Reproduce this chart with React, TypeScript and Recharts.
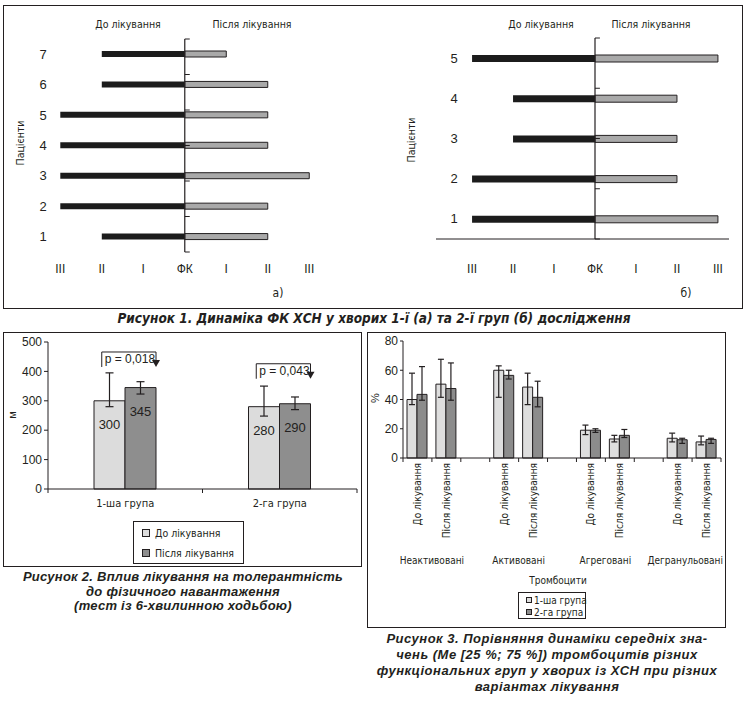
import { BarChart, Bar, XAxis, YAxis, ReferenceLine, ErrorBar, LabelList, Legend } from 'recharts';

const INK = '#231f20';
const NARROW = '"Liberation Sans Narrow", "DejaVu Sans Condensed", "Arial Narrow", sans-serif';
const SANS = '"Liberation Sans", Arial, sans-serif';

// Рисунок 1 (а): ФК ХСН у пацієнтів 1-ї групи
const patientsA = ['1', '2', '3', '4', '5', '6', '7'];
const fcBeforeA = [2, 3, 3, 3, 3, 2, 2];
const fcAfterA = [2, 2, 3, 2, 2, 2, 1];

// Рисунок 1 (б): ФК ХСН у пацієнтів 2-ї групи
const patientsB = ['1', '2', '3', '4', '5'];
const fcBeforeB = [3, 3, 2, 2, 3];
const fcAfterB = [3, 2, 2, 2, 3];

const fcTicks = [-3, -2, -1, 0, 1, 2, 3];
const fcTickLabels = ['III', 'II', 'I', 'ФК', 'I', 'II', 'III'];

// Рисунок 2: тест із 6-хвилинною ходьбою, м
const walkGroups = ['1-ша група', '2-га група'];
const walkBefore = [300, 280];
const walkBeforeLow = [280, 248];
const walkBeforeHigh = [395, 350];
const walkAfter = [345, 290];
const walkAfterLow = [323, 270];
const walkAfterHigh = [365, 313];
const pValues = ['0,018', '0,043'];
const pLevels = [466, 426];
const walkTicks = [0, 100, 200, 300, 400, 500];

// Рисунок 3: тромбоцити, Me [25 %; 75 %]
const plateletGroups = ['Неактивовані', 'Активовані', 'Агреговані', 'Дегранульовані'];
const phases = ['До лікування', 'Після лікування'];
const grp1Me = [40, 50.5, 60, 48.5, 19, 13, 13.5, 11];
const grp1Q25 = [36.5, 41.5, 41.5, 36.5, 16, 11, 11, 9];
const grp1Q75 = [58, 67.5, 63, 58, 22.5, 15.5, 17, 15];
const grp2Me = [43.5, 47.5, 56.5, 41.5, 19, 15.5, 12.5, 12.7];
const grp2Q25 = [39.5, 39.5, 54, 35, 17.5, 14, 10, 10];
const grp2Q75 = [62.5, 65, 60, 52.5, 20, 19.5, 13.5, 13.5];
const plateletTicks = [0, 10, 20, 30, 40, 50, 60, 70, 80];

const rowsA = patientsA.map((p, i) => ({ patient: p, before: -fcBeforeA[i], after: fcAfterA[i] }));
const rowsB = patientsB.map((p, i) => ({ patient: p, before: -fcBeforeB[i], after: fcAfterB[i] }));

const walkRows = walkGroups.map((g, i) => ({
  group: g,
  before: walkBefore[i],
  beforeErr: [walkBefore[i] - walkBeforeLow[i], walkBeforeHigh[i] - walkBefore[i]],
  after: walkAfter[i],
  afterErr: [walkAfter[i] - walkAfterLow[i], walkAfterHigh[i] - walkAfter[i]],
  p: pValues[i],
}));

const plateletRows: any[] = [];
plateletGroups.forEach((g, gi) => {
  if (gi > 0) plateletRows.push({ id: `gap-${gi}`, phase: '', group: '' });
  phases.forEach((ph, pi) => {
    const i = gi * 2 + pi;
    plateletRows.push({
      id: `${gi}-${pi}`,
      phase: ph,
      group: pi === 0 ? g : '',
      g1: grp1Me[i],
      g1Err: [grp1Me[i] - grp1Q25[i], grp1Q75[i] - grp1Me[i]],
      g2: grp2Me[i],
      g2Err: [grp2Me[i] - grp2Q25[i], grp2Q75[i] - grp2Me[i]],
    });
  });
});

const Note = ({ x, y, children, size = 10.5, font = NARROW, rotate = 0, style = {} }: any) => (
  <div
    style={{
      position: 'absolute', left: x, top: y, transform: `translate(-50%, -50%) rotate(${rotate}deg)`,
      fontSize: size, fontFamily: font, color: INK, whiteSpace: 'nowrap', lineHeight: 1, ...style,
    }}
  >
    {children}
  </div>
);

const Frame = ({ x, y, w, h }: any) => (
  <div style={{ position: 'absolute', left: x, top: y, width: w, height: h, border: `1px solid ${INK}`, boxSizing: 'border-box' }} />
);

const PatientTick = ({ y, payload, cx }: any) => (
  <text x={cx} y={y} dy={4.5} textAnchor="middle" fontSize={13} fontFamily={SANS} fill={INK}>
    {payload.value}
  </text>
);

const FcChart = ({ rows, width, height, top, plotBottom, yWidth, right, domain, barSize, labelX, tickMargin, axisLine }: any) => {
  const n = rows.length;
  const bounds = Array.from({ length: n + 1 }, (_, k) => k);
  return (
    <BarChart width={width} height={height} data={rows} layout="vertical" stackOffset="sign"
      margin={{ top, right, bottom: 0, left: 0 }}>
      <XAxis type="number" domain={domain} allowDataOverflow ticks={fcTicks} interval={0}
        tickFormatter={(v: number) => fcTickLabels[fcTicks.indexOf(v)]}
        axisLine={axisLine ? { stroke: INK } : false} tickLine={false} tickMargin={tickMargin}
        height={height - plotBottom} tick={{ fontSize: 12, fill: INK, fontFamily: SANS }} />
      <YAxis yAxisId="cat" type="category" dataKey="patient" reversed width={yWidth} interval={0}
        axisLine={false} tickLine={false} tick={<PatientTick cx={labelX} />} />
      <YAxis yAxisId="grid" type="number" domain={[0, n]} hide />
      <ReferenceLine yAxisId="cat" x={0} stroke={INK} strokeWidth={1.2} />
      {bounds.map((k) => (
        <ReferenceLine key={k} yAxisId="grid" segment={[{ x: 0, y: k }, { x: 0.12, y: k }]} stroke={INK} />
      ))}
      <Bar yAxisId="cat" dataKey="before" stackId="fc" fill="#1c1c1c" barSize={barSize} isAnimationActive={false} />
      <Bar yAxisId="cat" dataKey="after" stackId="fc" fill="#a9a9a9" stroke={INK} strokeWidth={1}
        barSize={barSize} isAnimationActive={false} />
    </BarChart>
  );
};

// Рисунок 2 layout
const W2 = 359, H2 = 235, Y2W = 45, X2H = 78;
const M2 = { top: 10, right: 5, bottom: 0, left: 0 };
const band2 = (W2 - Y2W - M2.right) / walkGroups.length;

const WalkTick = ({ x, y, index, payload }: any) => {
  const axisY = y - 6;
  return (
    <g>
      <line x1={x - band2 / 2} x2={x - band2 / 2} y1={axisY} y2={axisY + 4} stroke={INK} />
      {index === walkGroups.length - 1 && (
        <line x1={x + band2 / 2} x2={x + band2 / 2} y1={axisY} y2={axisY + 4} stroke={INK} />
      )}
      <text x={x} y={axisY + 18} textAnchor="middle" fontSize={11} fontFamily={NARROW} fill={INK}>
        {payload.value}
      </text>
    </g>
  );
};

const PBracket = (props: any) => {
  const vb = props.viewBox || props;
  const { x, y, width, height } = vb;
  const i = props.index;
  const pxPerUnit = height / walkAfter[i];
  const topY = y + height - pLevels[i] * pxPerUnit;
  const left = x - width * 0.75;
  const right = x + width;
  const legBottom = topY + 15;
  return (
    <g>
      <polyline points={`${left},${legBottom} ${left},${topY} ${right},${topY} ${right},${legBottom - 6}`}
        fill="none" stroke={INK} strokeWidth={1} />
      <polygon points={`${right - 4},${legBottom - 7} ${right + 4},${legBottom - 7} ${right},${legBottom}`} fill={INK} />
      <text x={left + 3} y={topY + 11} fontSize={12} fontFamily={SANS} fill={INK}>{`p = ${props.value}`}</text>
    </g>
  );
};

const BoxLegend = ({ payload, sq, gap, row, font, padLeft }: any) => (
  <div style={{ border: `1px solid ${INK}`, background: '#fff', paddingLeft: padLeft, paddingTop: 1, boxSizing: 'border-box',
    fontFamily: NARROW, fontSize: font, color: INK }}>
    {(payload || []).map((e: any) => (
      <div key={e.value} style={{ display: 'flex', alignItems: 'center', height: row, whiteSpace: 'nowrap' }}>
        <span style={{ flexShrink: 0, width: sq, height: sq, background: e.color, border: `1px solid ${INK}`,
          marginRight: gap, boxSizing: 'border-box' }} />
        {e.value}
      </div>
    ))}
  </div>
);

// Рисунок 3 layout
const W3 = 359, H3 = 296, Y3W = 36, X3H = 170;
const M3 = { top: 9, right: 5, bottom: 0, left: 0 };
const band3 = (W3 - Y3W - M3.right) / plateletRows.length;

const PlateletTick = ({ x, y, index }: any) => {
  const row = plateletRows[index];
  if (!row) return null;
  const axisY = y - 6;
  const ty = axisY + 5;
  // the last group name is long: keep it inside the plot's right edge
  const isLastGroup = row.group && index === plateletRows.length - 2;
  return (
    <g>
      <line x1={x - band3 / 2} x2={x - band3 / 2} y1={axisY} y2={axisY + 4} stroke={INK} />
      {index === plateletRows.length - 1 && (
        <line x1={x + band3 / 2} x2={x + band3 / 2} y1={axisY} y2={axisY + 4} stroke={INK} />
      )}
      {row.phase && (
        <text x={x} y={ty} transform={`rotate(-90 ${x} ${ty})`} textAnchor="end" dominantBaseline="central"
          fontSize={10} fontFamily={NARROW} fill={INK}>
          {row.phase}
        </text>
      )}
      {row.group && (
        <text x={isLastGroup ? x + band3 * 1.5 + 2 : x + band3 / 2} y={axisY + 106}
          textAnchor={isLastGroup ? 'end' : 'middle'} fontSize={10} fontFamily={NARROW} fill={INK}>
          {row.group}
        </text>
      )}
    </g>
  );
};

export default function App() {
  return (
    <div style={{ position: 'absolute', left: 0, top: 0, width: 753, height: 707, background: '#fff', overflow: 'hidden' }}>
      {/* Рисунок 1 */}
      <Frame x={3} y={5} w={740} h={304} />
      <div style={{ position: 'absolute', left: 0, top: 0 }}>
        <FcChart rows={rowsA} width={380} height={300} top={39} plotBottom={252} yWidth={52} right={50}
          domain={[-3.2, 3.5]} barSize={6} labelX={43} tickMargin={6} axisLine={false} />
      </div>
      <div style={{ position: 'absolute', left: 380, top: 0 }}>
        <FcChart rows={rowsB} width={373} height={300} top={38} plotBottom={239} yWidth={56} right={24}
          domain={[-3.88, 3.27]} barSize={7} labelX={74} tickMargin={19} axisLine />
      </div>
      <Note x={128} y={24}>До лікування</Note>
      <Note x={252} y={24}>Після лікування</Note>
      <Note x={20} y={143} rotate={-90}>Пацієнти</Note>
      <Note x={278} y={293} size={12}>а)</Note>
      <Note x={541} y={24}>До лікування</Note>
      <Note x={651} y={24}>Після лікування</Note>
      <Note x={411} y={140} rotate={-90}>Пацієнти</Note>
      <Note x={686} y={293} size={12}>б)</Note>
      <Note x={374} y={319} size={13.5} style={{ fontWeight: 'bold', fontStyle: 'italic' }}>
        Рисунок 1. Динаміка ФК ХСН у хворих 1-ї (а) та 2-ї груп (б) дослідження
      </Note>

      {/* Рисунок 2 */}
      <Frame x={3} y={332} w={359} h={235} />
      <div style={{ position: 'absolute', left: 3, top: 332 }}>
        <BarChart width={W2} height={H2} data={walkRows} margin={M2} barGap={0} barSize={31}>
          <XAxis dataKey="group" interval={0} height={X2H} axisLine={{ stroke: INK }} tickLine={false}
            tickSize={4} tickMargin={2} tick={<WalkTick />} />
          <YAxis domain={[0, 500]} ticks={walkTicks} width={Y2W} axisLine={{ stroke: INK }}
            tickLine={{ stroke: INK }} tickSize={4} tickMargin={2}
            tick={{ fontSize: 12, fill: INK, fontFamily: SANS }} />
          <Legend layout="vertical" verticalAlign="middle" align="center"
            wrapperStyle={{ left: 130, top: 189, width: 111 }}
            content={<BoxLegend sq={8} gap={5} row={20} font={10.5} padLeft={8} />} />
          <Bar dataKey="before" name="До лікування" fill="#dcdcdc" stroke={INK} strokeWidth={1} isAnimationActive={false}>
            <ErrorBar dataKey="beforeErr" width={4} stroke={INK} strokeWidth={1.2} />
            <LabelList dataKey="before" position="insideTop" offset={19} fill={INK} fontSize={13} fontFamily={SANS} />
          </Bar>
          <Bar dataKey="after" name="Після лікування" fill="#8e8e8e" stroke={INK} strokeWidth={1} isAnimationActive={false}>
            <ErrorBar dataKey="afterErr" width={4} stroke={INK} strokeWidth={1.2} />
            <LabelList dataKey="after" position="insideTop" offset={19} fill={INK} fontSize={13} fontFamily={SANS} />
            <LabelList dataKey="p" content={<PBracket />} />
          </Bar>
        </BarChart>
      </div>
      <Note x={12} y={415} size={11} font={SANS} rotate={-90}>м</Note>
      <div style={{ position: 'absolute', left: 183, top: 570, transform: 'translateX(-50%)', width: 360, textAlign: 'center',
        fontFamily: SANS, fontSize: 13, fontWeight: 'bold', fontStyle: 'italic', lineHeight: '14.5px', color: INK,
        letterSpacing: 0.25 }}>
        Рисунок 2. Вплив лікування на толерантність<br />до фізичного навантаження<br />(тест із 6-хвилинною ходьбою)
      </div>

      {/* Рисунок 3 */}
      <Frame x={367} y={332} w={359} h={296} />
      <div style={{ position: 'absolute', left: 367, top: 332 }}>
        <BarChart width={W3} height={H3} data={plateletRows} margin={M3} barGap={0} barSize={10}>
          <XAxis dataKey="id" interval={0} height={X3H} axisLine={{ stroke: INK }} tickLine={false}
            tickSize={4} tickMargin={2} tick={<PlateletTick />} />
          <XAxis xAxisId="frame" orientation="top" dataKey="id" height={0} tick={false} tickLine={false}
            axisLine={{ stroke: INK }} />
          <YAxis domain={[0, 80]} ticks={plateletTicks} width={Y3W} axisLine={{ stroke: INK }}
            tickLine={{ stroke: INK }} tickSize={3} tickMargin={2}
            tick={{ fontSize: 12, fill: INK, fontFamily: SANS }} />
          <YAxis yAxisId="frame" orientation="right" domain={[0, 80]} width={0} tick={false} tickLine={false}
            axisLine={{ stroke: INK }} />
          <Legend layout="vertical" verticalAlign="middle" align="center"
            wrapperStyle={{ left: 151, top: 260, width: 68 }}
            content={<BoxLegend sq={6} gap={2} row={12} font={10} padLeft={7} />} />
          <Bar dataKey="g1" name="1-ша група" fill="#dedede" stroke={INK} strokeWidth={1} isAnimationActive={false}>
            <ErrorBar dataKey="g1Err" width={3} stroke={INK} strokeWidth={1.2} />
          </Bar>
          <Bar dataKey="g2" name="2-га група" fill="#8c8c8c" stroke={INK} strokeWidth={1} isAnimationActive={false}>
            <ErrorBar dataKey="g2Err" width={3} stroke={INK} strokeWidth={1.2} />
          </Bar>
        </BarChart>
      </div>
      <Note x={375} y={398} size={11} font={SANS} rotate={-90}>%</Note>
      <Note x={558} y={581} size={10}>Тромбоцити</Note>
      <div style={{ position: 'absolute', left: 547, top: 631, transform: 'translateX(-50%)', width: 380, textAlign: 'center',
        fontFamily: SANS, fontSize: 13, fontWeight: 'bold', fontStyle: 'italic', lineHeight: '16px', color: INK,
        letterSpacing: 0.5 }}>
        Рисунок 3. Порівняння динаміки середніх зна-<br />чень (Me [25 %; 75 %]) тромбоцитів різних<br />
        функціональних груп у хворих із ХСН при різних<br />варіантах лікування
      </div>
    </div>
  );
}
